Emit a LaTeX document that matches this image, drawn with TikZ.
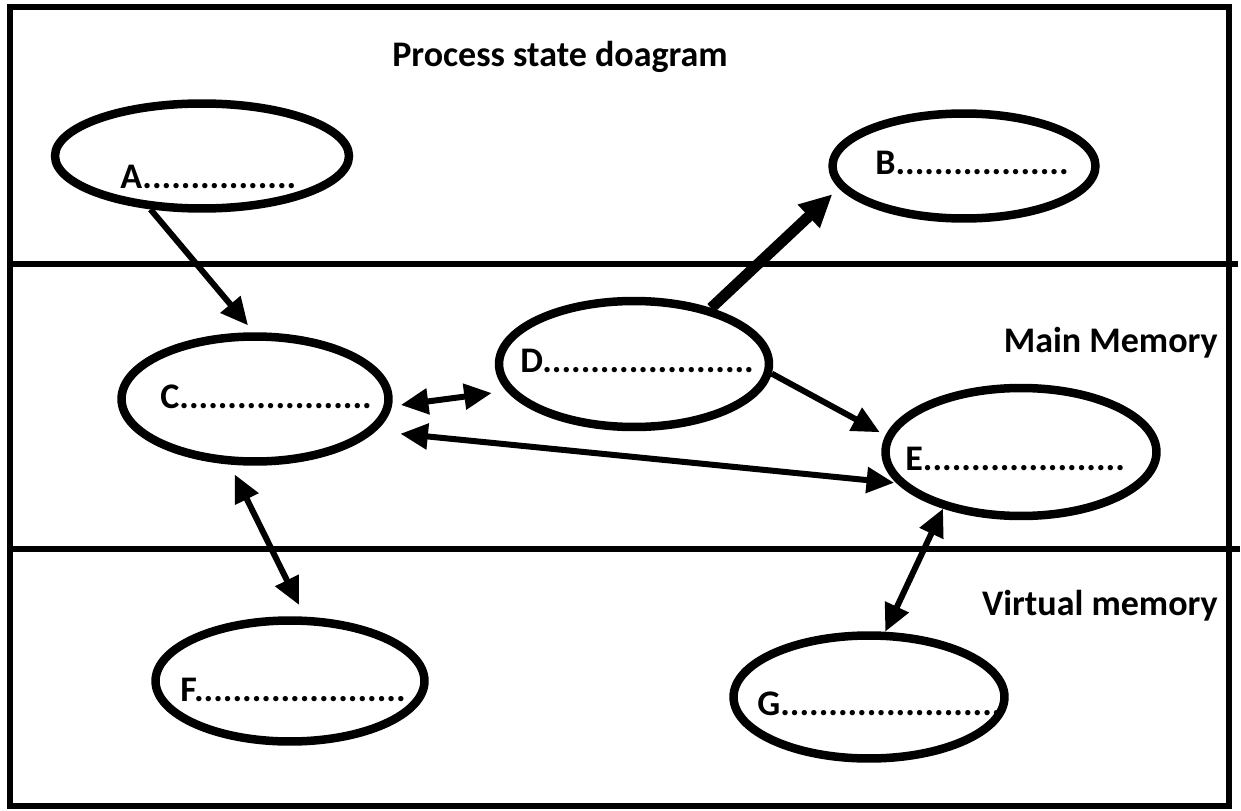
\documentclass[tikz,border=0pt]{standalone}
\usepackage{fontspec}
\setmainfont{Carlito}
\usetikzlibrary{shapes.geometric, arrows.meta}

\begin{document}
\begin{tikzpicture}
    [x=0.02cm, y=-0.02cm,
    statenode/.style={ellipse, draw=black, line width=0.17cm, inner sep=0pt},
    textnode/.style={font=\fontsize{20.5}{24}\selectfont\bfseries, inner sep=0pt},
    onearrow/.style={line width=0.12cm, -{Triangle[length=0.55cm,width=0.5cm]}},
    twoarrow/.style={line width=0.12cm, {Triangle[length=0.55cm,width=0.5cm]}-{Triangle[length=0.55cm,width=0.5cm]}},]

    \useasboundingbox (0,0) rectangle (1241,811);

    %Frame
    \draw[line width=0.12cm] (10,7) rectangle (1229,806);
    \draw[line width=0.12cm] (10,264) -- (1238,264);
    \draw[line width=0.12cm] (10,549) -- (1240,549);

    %Titles
    \node[textnode, anchor=base](title) at (560,67) {Process state doagram};
    \node[textnode, anchor=base east](main) at (1218,352) {Main Memory};
    \node[textnode, anchor=base east](virtual) at (1218,615) {Virtual memory};

    %Nodes
    \node[statenode, minimum width=5.88cm, minimum height=2.1cm](A) at (202,156) {};
    \node[statenode, minimum width=5.26cm, minimum height=2.1cm](B) at (964,166) {};
    \node[statenode, minimum width=5.34cm, minimum height=2.5cm](C) at (255,399) {};
    \node[statenode, minimum width=5.4cm, minimum height=2.52cm](D) at (634,364) {};
    \node[statenode, minimum width=5.42cm, minimum height=2.56cm](E) at (1021,452) {};
    \node[statenode, minimum width=5.38cm, minimum height=2.42cm](F) at (290,681) {};
    \node[statenode, minimum width=5.42cm, minimum height=2.46cm](G) at (869,697) {};

    \node[textnode, anchor=west](A-text) at (120,177) {A................};
    \node[textnode, anchor=west](B-text) at (875,163) {B..................};
    \node[textnode, anchor=west](C-text) at (160,397) {C....................};
    \node[textnode, anchor=west](D-text) at (520,361) {D......................};
    \node[textnode, anchor=west](E-text) at (905,459) {E.....................};
    \node[textnode, anchor=west](F-text) at (180,690) {F......................};
    \node[textnode, anchor=west](G-text) at (757,704) {G.......................};

    %Lines
    \draw[onearrow, shorten >=0.18cm] (A.226) -- (C.91);
    \draw[line width=0.22cm, -{Triangle[length=0.65cm,width=0.6cm]}, shorten >=0.18cm] (D.36) -- (B.190);
    \draw[onearrow, shorten >=0.13cm] (D.-4) -- (E.173);
    \draw[twoarrow, shorten <=0.18cm, shorten >=0.3cm] (C.-3) -- (D.192);
    \draw[twoarrow, shorten <=0.5cm, shorten >=0.05cm] (C.-15) -- (E.194);
    \draw[twoarrow, shorten <=0.22cm, shorten >=0.26cm] (C.-111) -- (F.77);
    \draw[twoarrow] (E.216) -- (G.76);
\end{tikzpicture}
\end{document}
